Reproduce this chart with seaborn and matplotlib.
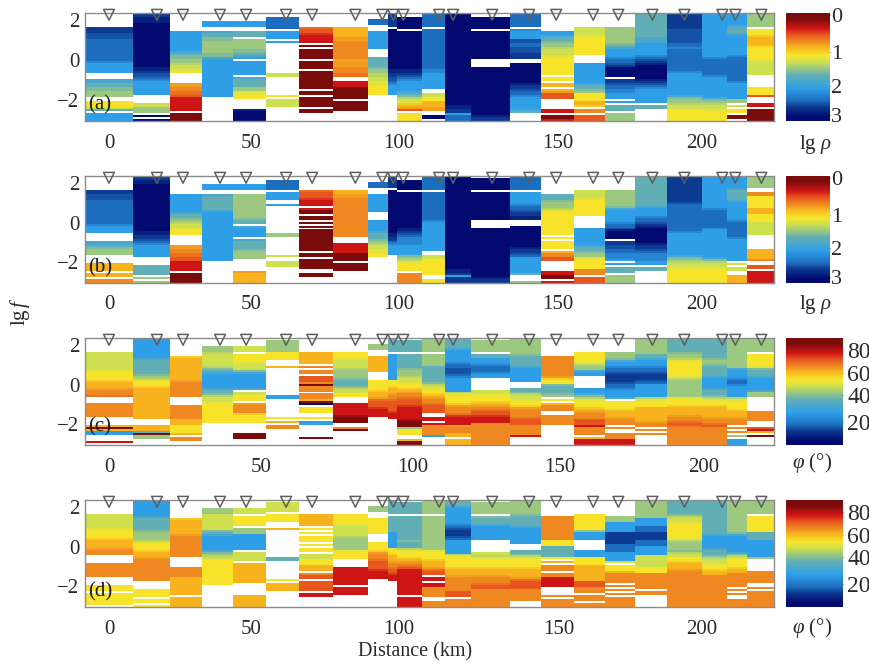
import numpy as np
import pandas as pd
import seaborn as sns
import matplotlib.pyplot as plt
from matplotlib.colors import LinearSegmentedColormap

# station positions and column edges along the profile, km
station_km = [0, 16.2, 25, 37.5, 46.3, 59.8, 68.6, 83.2, 92.3, 96, 99.4, 111.5, 116.2,
              129.4, 141.9, 151, 163.5, 172, 183.5, 194.3, 207.1, 211.5, 220.3]
edge_km = [-8.1, 8.1, 20.6, 31.4, 41.9, 53, 64.2, 75.7, 87.5, 94.3, 97.3, 105.4, 113.5,
           122.3, 135.5, 146, 156.8, 167.6, 177.7, 188.5, 200.3, 208.4, 215.5, 224.3]

# lg f rows, top to bottom
lgf_top = 2.35
lgf_step = 0.1
n_rows = 54

# colour levels along the colour bar, top (red) to bottom (navy)
level_names = "0123456789abc"
level_pos = [0.05, 0.14, 0.20, 0.265, 0.31, 0.39, 0.45, 0.51, 0.575, 0.70, 0.81, 0.87, 0.96]
level_colors = ["#7a0c0c", "#d01515", "#e8561f", "#f08a22", "#f7b21e", "#f7e52a", "#cfe04e",
                "#9cc87f", "#63aeb4", "#2e9fe8", "#1e6fc0", "#0c3a90", "#020a70"]
# in-between levels used on the gradients
half_names = "defghijklmno"
half_pos = [0.095, 0.17, 0.2325, 0.2875, 0.35, 0.42, 0.48, 0.5425, 0.6375, 0.755, 0.84, 0.915]

# one column per station: "<rows><level>", "." = no data
panel_a = [
    "7. 3b 3n 9a 2a 1m 59 3. 2l 28 2k 37 2. 35 16 18 1. 49",
    "2b 3o 22c 2o 1b 2n 1a 1m 79 4. 26 37 1. 1c 1. 1c",
    "9. 109 1l 18 2k 27 1j 26 1i 15 5. 2g 23 2f 12 71 1. 40",
    "4. 39 2. 1l 28 2k 67 2k 1l 199 12.",
    "4. 39 2. 38 1. 57 2k 18 1l 19 1. 79 1. 1l 48 27 2i 25 5. 1o 5c",
    "2. 6a 1. 49 1. 19 1. 14. 26 9. 15 1. 46 7.",
    "7. 1f 22 1e 41 1. 10 1. 50 1. 40 1. 90 1. 20 1. 50 1. 20 4.",
    "7. 54 2g 93 4g 33 2f 2. 31 60 1. 50 5.",
    "3. 3a 3. 99 4. 28 38 1k 27 2j 26 2i 55 13.",
    "7b 1. 20c 2o 2b 2n 1a 1m 59 13.",
    "2. 6c 1. 19c 2o 1b 1n 1a 1m 59 1l 18 1k 1j 16 1i 1h 14 1g 12 1. 45",
    "7a 1. 20a 2m 89 2. 26 25 34 2g 2. 2c 1.",
    "46c 2o 2b 19 3a",
    "2. 6c 1. 14c 4. 24c 1o 2b",
    "7a 1. 1m 49 2n 2a 3n 3b 2. 10c 1o 2b 1n 2a 1m 69 1l 18 4.",
    "9. 29 1l 28 1k 27 1j 36 1i 95 1. 25 1. 24 1. 14 1g 32 5. 21 1. 20 11",
    "7. 46 1i 95 4. 109 1l 28 1k 17 45 24 1h 1. 23 1. 32",
    "7. 87 1k 18 1l 49 1m 2a 1n 1b 5c 1. 2b 1n 2a 2m 39 1. 19 1. 38 1. 47",
    "78 58 3l 69 1m 1a 1n 1b 1o 7c 1o 1b 1n 1a 1m 79 1. 28 6.",
    "8b 7n 2a 1m 11a 1m 119 1l 1k 27 1j 26 65",
    "229 1m 8a 1m 109 1l 1k 17 1j 26 1i 55",
    "69 1l 38 1l 109 1m 12a 1m 89 27 1. 16 1. 25 1. 20 1.",
    "77 1. 35 1h 44 1h 25 45 1i 76 6. 45 12 3. 21 1. 60",
]
panel_b = [
    "7. 2b 3n 12a 1m 49 4. 2l 18 1k 37 4. 44 1. 24 1. 23",
    "2b 2o 24c 2o 2b 1n 1a 1m 69 4. 58 1. 17 1. 17",
    "9. 99 1l 28 1k 17 1j 26 1i 35 5. 2g 23 2f 22 51 1. 50",
    "4. 39 2. 1l 78 1l 259 11.",
    "4. 39 2. 127 1k 28 1. 1l 59 1. 1l 48 1k 47 6. 1g 54",
    "2. 5a 1. 49 2. 19 14. 27 9. 16 2. 36 8.",
    "7. 1f 32 1e 31 1. 11 20 1. 20 1. 10 1. 10 1. 110 1. 20 1. 50 2. 20 3.",
    "7. 24 2g 203 3. 51 40 1. 40 6.",
    "3. 3a 3. 99 4. 69 1l 38 1k 17 1j 26 2i 25 13.",
    "6b 1. 22c 2o 2b 1a 1m 59 14.",
    "2. 5c 1. 18c 2o 1b 1n 1a 4m 59 1k 17 1j 1i 45 1. 53",
    "7a 1. 14a 1m 159 2. 26 85 2. 25",
    "47c 2o 1b 19 3b",
    "1. 6c 1. 14c 4. 25c 1o 2b",
    "7a 1. 69 1m 2a 1n 2b 2o 3. 11c 1o 2b 1n 1a 89 18 3. 17",
    "9. 38 1k 37 1j 1i 125 1. 15 1. 45 1. 14 23 22 5. 21 20 1. 11",
    "7. 46 1i 85 6. 99 1l 28 1k 27 1i 55 33 1. 32",
    "7. 87 1k 1l 69 1m 2a 1n 1o 4c 1. 2b 2n 2a 3m 19 1. 19 1. 38 1. 47",
    "158 1l 49 1m 2a 1n 1b 1o 8c 1o 2b 1n 1a 4m 29 1. 28 6.",
    "13b 1n 14a 1m 119 1l 1k 17 1j 26 1i 75",
    "169 1m 9a 1m 149 1l 1k 1j 26 1i 75",
    "69 1l 58 1l 99 1m 8a 1m 119 1. 16 1. 26 2. 44",
    "67 2. 23 65 34 45 76 7. 54 13 2. 22 1. 61",
]
panel_c = [
    "7. 96 1i 45 1h 34 1g 33 1f 3. 73 4. 14 10 14 19 19 3. 11 1.",
    "109 1l 78 1k 17 1j 1i 25 1h 164 3. 34 18 10 27 3.",
    "9. 1h 114 1g 83 4. 73 34 45 14 1. 23 2.",
    "4. 37 1j 66 1j 1k 18 1l 79 1l 28 1k 1j 26 1i 105 11.",
    "4. 36 1. 45 1i 36 1k 1l 79 1l 1. 26 35 1. 1g 43 1h 35 15 5. 30 4.",
    "1. 67 45 3. 14 14. 29 9. 15 1. 14 1. 23 8.",
    "7. 64 1. 13 1. 23 1. 32 13 10 13 23 1. 33 14 10 1c 1. 35 2. 15 1. 29 6. 10 3.",
    "7. 35 1i 46 1j 47 1k 38 1k 1j 26 25 3. 61 1d 30 2. 13 10 7.",
    "3. 37 3. 84 4. 55 1h 34 1g 1f 32 1e 41 14.",
    "78 1. 139 1i 25 1h 34 1g 23 1f 52 1e 31 13.",
    "1. 68 1. 78 1k 37 1j 26 1i 25 1h 14 1g 23 1f 32 1e 61 1d 30 17 35 2. 14 20",
    "77 1. 67 88 1k 1j 16 1i 25 1h 14 1g 23 1f 42 2. 21 1. 11 53 19 4.",
    "58 1l 69 1m 2a 3n 1a 1m 79 1j 1i 45 1h 1g 33 1f 1e 41 1g 33 24 1. 34",
    "1. 67 1. 28 39 1m 3a 1m 29 6. 26 1i 35 1h 14 1g 13 1f 22 1e 31 113",
    "87 1k 58 1l 79 3. 28 1k 1j 26 1i 25 1h 1g 43 1f 32 53 11 4.",
    "9. 103 1g 1h 25 1k 48 1k 17 1. 15 1. 14 33 2. 53 10.",
    "7. 55 1i 1j 27 1l 29 6. 39 1l 1k 1j 1i 35 1h 14 1g 33 32 11 43 1. 14 31",
    "7. 37 1k 1l 29 1m 2a 1n 4b 1n 2a 1m 49 1l 1. 45 1h 34 1g 33 1. 13 2. 33 31",
    "87 28 1l 39 1m 2a 1n 3b 1n 1a 79 1j 1i 35 74 1g 23 1. 13 1. 13 5.",
    "78 1k 27 1j 1i 75 1i 1j 97 1i 35 1h 44 1g 23 1f 12 1f 93",
    "108 1k 27 1k 58 1l 59 1l 38 1k 1j 1i 25 1h 54 1g 23 1f 12 93",
    "157 1l 49 1m 2a 1m 69 1j 1i 45 1h 34 1g 33 1. 13 1. 13 1. 17 1. 39",
    "77 1. 65 1i 1k 38 1l 69 1l 37 7. 53 3. 12 11 14 1. 10 4.",
]
panel_d = [
    "7. 76 1i 45 1h 44 1g 33 4. 73 4. 35 1. 65",
    "89 1l 68 1k 47 1j 1i 35 1h 34 1g 113 4. 45 1. 25 1. 15",
    "9. 1h 74 1g 113 5. 53 94 1. 54",
    "4. 37 86 1k 18 1l 79 1l 1k 17 1j 16 135 11.",
    "4. 36 1. 55 1. 37 89 1. 56 1. 104 6. 64",
    "1. 56 1. 45 3. 14 14. 28 9. 15 1. 44 8.",
    "7. 64 1. 15 1. 15 1. 35 1. 15 1. 25 1. 36 35 34 1. 13 22 1. 52 1. 21 5.",
    "7. 55 1i 56 1j 67 1i 45 4. 91 1. 41 6.",
    "3. 37 3. 85 4. 45 1h 1g 33 1f 42 1e 41 14.",
    "78 1. 88 89 1i 25 1h 34 1g 23 1f 22 1e 31 13.",
    "1. 68 1. 128 1k 38 1j 1i 35 1h 14 1g 13 1f 12 131 1. 51",
    "77 1. 177 1i 45 1h 34 1g 1f 22 1. 21 1. 21 53 2. 33",
    "38 1l 89 1m 1a 1n 3b 1n 1a 79 1j 1i 55 1h 34 1g 73 32 1. 43",
    "1. 67 1. 1k 38 1l 79 6. 26? 1j 1i 45 1h 34 1g 33 1f 22 113",
    "77 1k 58 1l 89 3. 28 1k 1j 1i 45 1h 44 1g 1f 42 63 3.",
    "8. 123 35 68 15 1. 14 1. 33 1. 23 51 4. 13 1. 43",
    "7. 85 17 49 5. 49 45 84 32 33 1. 33 1. 23",
    "8. 37 59 6b 4a 59 16 1. 35 14 53 1. 13 1. 13 1. 13 1. 53",
    "77 27 49 3a 4b 3a 59 66 35 83 1. 23 6.",
    "78 1k 1j 26 1i 75 1i 1j 47 1k 1j 26 25 1h 34 1g 23 163",
    "138 48 1l 69 1l 38 1k 1j 26 1i 25 1h 24 163",
    "167 1k 1l 89 1l 1k 1j 1i 45 1h 24 73 1. 13 1. 13 2. 43",
    "77 1. 85 48 99 17 6. 63 2. 13 1. 83",
]

# label positions of the km axis in each panel, as printed
tick_labels = [0, 50, 100, 150, 200]
ticks_ab = [0, 48, 98, 151.4, 200]
ticks_c = [0, 51.4, 102.7, 152.4, 200.7]
ticks_d = [0, 48, 98, 152, 200]

rho_ticks = [0.05, 1.08, 2.03, 2.83]
rho_labels = ["0", "1", "2", "3"]
phi_ticks = [80, 60.6, 42, 19]
phi_labels = ["80", "60", "40", "20"]

W, H = 870, 668
km_step = 1 / 3
grid_km = np.arange(edge_km[0], edge_km[-1], km_step) + km_step / 2


def km_to_col(km):
    return (np.asarray(km) - edge_km[0]) / km_step


def lgf_to_row(v):
    return (lgf_top - np.asarray(v)) / lgf_step


def decode(col):
    # "7. 6b" -> 7 blanks, 6 of level b, as position on the colour bar
    names = level_names + half_names
    pos = level_pos + half_pos
    out = []
    for tok in col.replace("?", "").split():
        n, c = int(tok[:-1]), tok[-1]
        t = np.nan if c == "." else pos[names.index(c)]
        out += [t] * n
    return (out + [np.nan] * n_rows)[:n_rows]


def panel_table(cols, scale):
    vals = np.array([decode(c) for c in cols]).T
    idx = np.clip(np.searchsorted(edge_km, grid_km) - 1, 0, len(cols) - 1)
    return pd.DataFrame(scale(vals[:, idx]), columns=grid_km)


def px_axes(left, top, right, bottom):
    return fig.add_axes([left / W, 1 - bottom / H, (right - left) / W, (bottom - top) / H])


sns.set_theme(style="white")
plt.rcParams["font.family"] = ["Liberation Serif", "DejaVu Serif"]
plt.rcParams["mathtext.fontset"] = "custom"
plt.rcParams["mathtext.rm"] = "Liberation Serif"
plt.rcParams["mathtext.it"] = "Liberation Serif:italic"

stops = [(0, level_colors[0])] + list(zip(level_pos, level_colors)) + [(1, level_colors[-1])]
cmap = LinearSegmentedColormap.from_list("profile", stops, N=256)

fig = plt.figure(figsize=(W / 100, H / 100), dpi=100)

panels = [
    (panel_a, "(a)", (13, 121), 830, ticks_ab, "rho", 105),
    (panel_b, "(b)", (176, 283), 830, ticks_ab, "rho", 268),
    (panel_c, "(c)", (338, 445), 843, ticks_c, "phi", 427),
    (panel_d, "(d)", (500, 607), 843, ticks_d, "phi", 592),
]

text_color = "#2a2a2a"
for cols, tag, (top, bottom), cb_right, xt, kind, tag_y in panels:
    ax = px_axes(85, top, 774, bottom)
    cax = px_axes(786, top, cb_right, bottom)
    if kind == "rho":
        table = panel_table(cols, lambda t: t * 3)
        sns.heatmap(table, ax=ax, cbar_ax=cax, cmap=cmap, vmin=0, vmax=3,
                    xticklabels=False, yticklabels=False)
        cax.invert_yaxis()
        cax.set_yticks(rho_ticks, rho_labels)
        cax.tick_params(length=2, width=0.6, direction="in", colors=text_color, labelsize=16, pad=1)
    else:
        table = panel_table(cols, lambda t: (1 - t) * 90)
        sns.heatmap(table, ax=ax, cbar_ax=cax, cmap=cmap.reversed(), vmin=0, vmax=90,
                    xticklabels=False, yticklabels=False)
        cax.set_yticks(phi_ticks, phi_labels)
        cax.tick_params(length=2, width=0.6, direction="in", colors=text_color, labelsize=17, pad=3)

    ax.set_xticks(km_to_col(xt), tick_labels)
    ax.set_yticks(lgf_to_row([2, 0, -2]), ["2", "0", "\u22122"])
    ax.tick_params(axis="both", length=3, width=0.8, direction="in", color="#777777",
                   labelcolor=text_color, labelsize=15)
    ax.tick_params(axis="x", pad=9)
    ax.tick_params(axis="y", pad=4)
    for s in ax.spines.values():
        s.set_visible(True)
        s.set_color("#8c8c8c")
        s.set_linewidth(1.0)

    # station markers sit on the top edge
    sns.scatterplot(x=km_to_col(station_km), y=np.full(len(station_km), 0.9), ax=ax, marker="v",
                    s=60, facecolor="none", edgecolor="#5f5f5f", linewidth=1.1,
                    clip_on=False, zorder=5, legend=False)
    fig.text(88 / W, 1 - tag_y / H, tag, ha="left", va="center", fontsize=15, color="#1a1a1a")

fig.text(20 / W, 1 - 312 / H, "lg$\\,f$", rotation=90, ha="center", va="center",
         fontsize=15, color=text_color)
fig.text(415 / W, 1 - 652 / H, "Distance (km)", ha="center", va="center",
         fontsize=14.5, color=text_color)
fig.text(815 / W, 1 - 145 / H, "lg $\\rho$", ha="center", va="center", fontsize=15, color=text_color)
fig.text(815 / W, 1 - 305 / H, "lg $\\rho$", ha="center", va="center", fontsize=15, color=text_color)
fig.text(812 / W, 1 - 463 / H, "$\\varphi$ (\u00b0)", ha="center", va="center", fontsize=15, color=text_color)
fig.text(812 / W, 1 - 628 / H, "$\\varphi$ (\u00b0)", ha="center", va="center", fontsize=15, color=text_color)

fig.savefig("out.png", dpi=100, facecolor="white")
